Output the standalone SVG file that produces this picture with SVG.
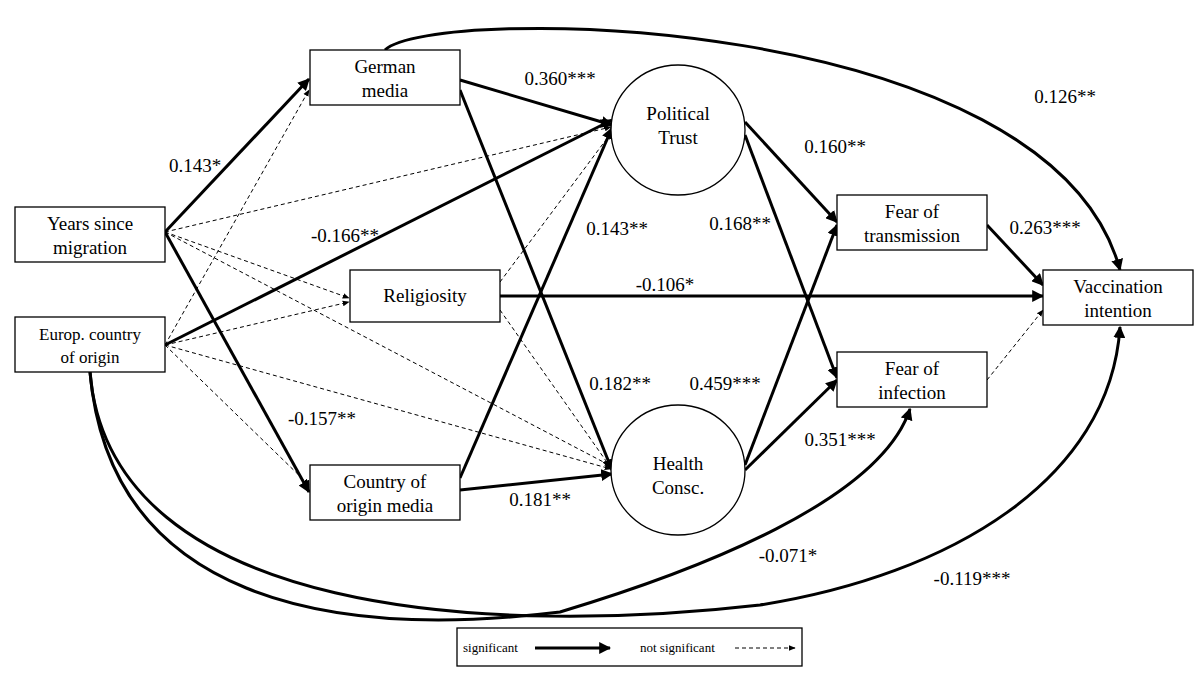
<svg xmlns="http://www.w3.org/2000/svg" width="1200" height="675" viewBox="0 0 1200 675">
<style>
.n{fill:#fff;stroke:#000;stroke-width:1.3}
text{font-family:"Liberation Serif","Times New Roman",serif;font-size:19px;fill:#000}
.c{text-anchor:middle}
.s{fill:none;stroke:#000;stroke-width:3}
.d{fill:none;stroke:#000;stroke-width:1;stroke-dasharray:4,3}
.sm{font-size:13px}
</style>
<defs>
<marker id="a" viewBox="0 0 10 10" refX="9" refY="5" markerWidth="4" markerHeight="4" orient="auto"><path d="M0,0L10,5L0,10z"/></marker>
<marker id="b" viewBox="0 0 10 10" refX="9" refY="5" markerWidth="7" markerHeight="7" orient="auto"><path d="M0,1L10,5L0,9z"/></marker>
</defs>
<rect width="1200" height="675" fill="#fff"/>
<g id="connectors">
<path class="s" d="M165,232L309,79" marker-end="url(#a)"/>
<path class="s" d="M165,232L309,492" marker-end="url(#a)"/>
<path class="s" d="M165,345L612,120" marker-end="url(#a)"/>
<path class="s" d="M460,80L612,125" marker-end="url(#a)"/>
<path class="s" d="M460,90L612,470" marker-end="url(#a)"/>
<path class="s" d="M460,478L612,128" marker-end="url(#a)"/>
<path class="s" d="M460,490L612,474" marker-end="url(#a)"/>
<path class="s" d="M745,122L837,222" marker-end="url(#a)"/>
<path class="s" d="M745,135L837,378" marker-end="url(#a)"/>
<path class="s" d="M745,465L837,225" marker-end="url(#a)"/>
<path class="s" d="M745,470L837,380" marker-end="url(#a)"/>
<path class="s" d="M987,225L1043,285" marker-end="url(#a)"/>
<path class="s" d="M500,296L1043,296" marker-end="url(#a)"/>
<path class="s" d="M385,50C430,5 1050,10 1120,270" marker-end="url(#a)"/>
<path class="s" d="M90,372C110,600 330,640 560,612C700,570 880,500 910,409" marker-end="url(#a)"/>
<path class="s" d="M90,372C110,620 500,635 760,605C950,575 1110,480 1120,327" marker-end="url(#a)"/>
<path class="d" d="M165,232L611,127" marker-end="url(#b)"/>
<path class="d" d="M165,232L349,298" marker-end="url(#b)"/>
<path class="d" d="M165,232L611,466" marker-end="url(#b)"/>
<path class="d" d="M165,345L309,90" marker-end="url(#b)"/>
<path class="d" d="M165,345L349,302" marker-end="url(#b)"/>
<path class="d" d="M165,345L611,469" marker-end="url(#b)"/>
<path class="d" d="M165,345L309,485" marker-end="url(#b)"/>
<path class="d" d="M500,282L611,133" marker-end="url(#b)"/>
<path class="d" d="M500,310L611,468" marker-end="url(#b)"/>
<path class="d" d="M987,380L1043,310" marker-end="url(#b)"/>
</g>
<g id="labels">
<text x="195" y="172" class="c">0.143*</text>
<text x="345" y="242" class="c">-0.166**</text>
<text x="322" y="425" class="c">-0.157**</text>
<text x="560" y="85" class="c">0.360***</text>
<text x="617" y="235" class="c">0.143**</text>
<text x="620" y="390" class="c">0.182**</text>
<text x="540" y="506" class="c">0.181**</text>
<text x="835" y="153" class="c">0.160**</text>
<text x="740" y="230" class="c">0.168**</text>
<text x="725" y="390" class="c">0.459***</text>
<text x="840" y="446" class="c">0.351***</text>
<text x="1045" y="234" class="c">0.263***</text>
<text x="665" y="291" class="c">-0.106*</text>
<text x="1065" y="103" class="c">0.126**</text>
<text x="788" y="562" class="c">-0.071*</text>
<text x="972" y="585" class="c">-0.119***</text>
</g>
<g id="german"><rect class="n" x="310" y="50" width="150" height="55"/><text x="385" y="73" class="c">German</text><text x="385" y="97" class="c">media</text></g>
<g id="years"><rect class="n" x="15" y="207" width="150" height="55"/><text x="90" y="230" class="c">Years since</text><text x="90" y="254" class="c">migration</text></g>
<g id="europ"><rect class="n" x="15" y="317" width="150" height="55"/><text x="90" y="340" class="c" style="font-size:17px">Europ. country</text><text x="90" y="363" class="c" style="font-size:17px">of origin</text></g>
<g id="relig"><rect class="n" x="350" y="270" width="150" height="52"/><text x="425" y="302" class="c">Religiosity</text></g>
<g id="comedia"><rect class="n" x="310" y="465" width="150" height="55"/><text x="385" y="488" class="c">Country of</text><text x="385" y="512" class="c">origin media</text></g>
<g id="pt"><ellipse class="n" cx="678" cy="130" rx="67" ry="65"/><text x="678" y="120" class="c">Political</text><text x="678" y="144" class="c">Trust</text></g>
<g id="hc"><ellipse class="n" cx="678" cy="470" rx="67" ry="65"/><text x="678" y="470" class="c">Health</text><text x="678" y="494" class="c">Consc.</text></g>
<g id="ft"><rect class="n" x="837" y="195" width="150" height="55"/><text x="912" y="218" class="c">Fear of</text><text x="912" y="242" class="c">transmission</text></g>
<g id="fi"><rect class="n" x="837" y="352" width="150" height="55"/><text x="912" y="375" class="c">Fear of</text><text x="912" y="399" class="c">infection</text></g>
<g id="vi"><rect class="n" x="1043" y="270" width="150" height="55"/><text x="1118" y="293" class="c">Vaccination</text><text x="1118" y="317" class="c">intention</text></g>
<g id="legend"><rect class="n" x="457" y="628" width="345" height="38"/><text x="463" y="652" class="sm">significant</text><path class="s" d="M535,648L610,648" marker-end="url(#a)"/><text x="640" y="652" class="sm">not significant</text><path class="d" d="M735,648L795,648" marker-end="url(#b)"/></g>
</svg>
